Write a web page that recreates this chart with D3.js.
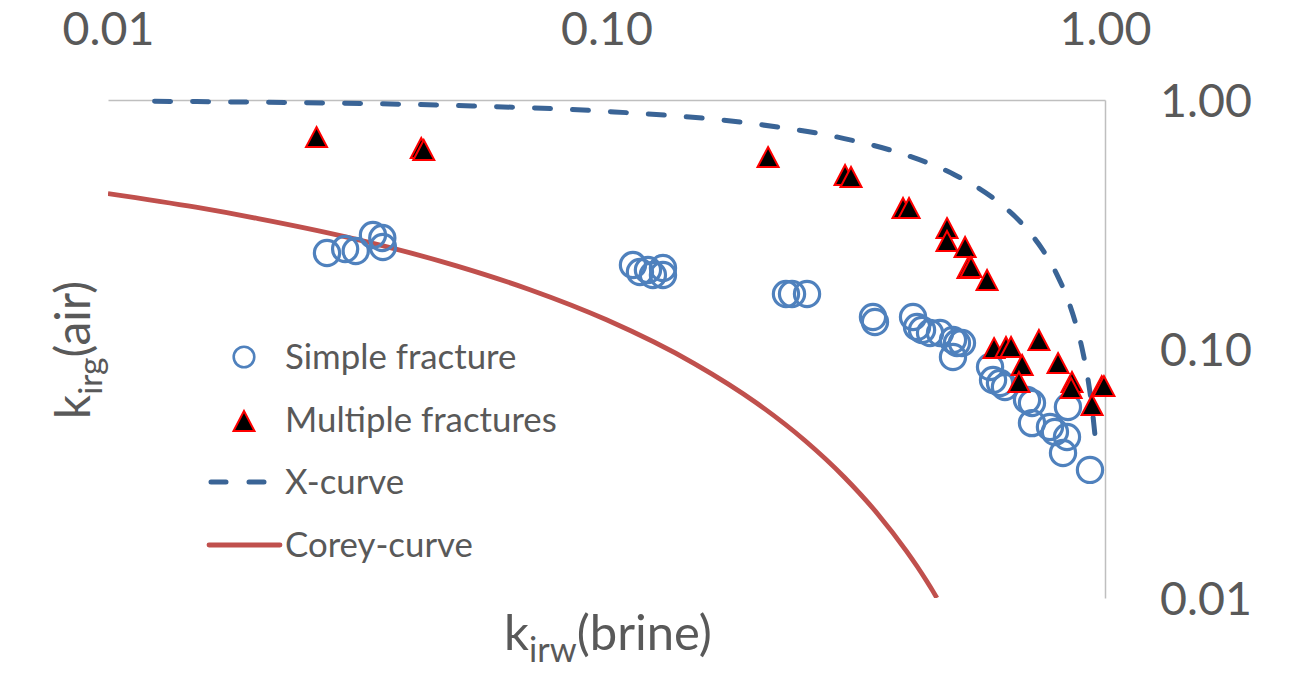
<!DOCTYPE html>
<html>
<head>
<meta charset="utf-8">
<script src="https://cdn.jsdelivr.net/npm/d3@7/dist/d3.min.js"></script>
<style>
  html, body { margin: 0; padding: 0; background: #fff; }
  svg { display: block; }
  text { font-family: Lato, "Open Sans", "Noto Sans", sans-serif; fill: #595959; }
</style>
</head>
<body>
<svg id="chart" width="1309" height="673"></svg>
<script>
// ---------------- data ----------------
const xTicks = [0.01, 0.1, 1];
const yTicks = [0.01, 0.1, 1];

// Simple fracture (open circles)
const simpleKrw = [0.0275, 0.0299, 0.0314, 0.0340, 0.0355, 0.0356,
  0.1130, 0.1167, 0.1211, 0.1239, 0.1298, 0.1298,
  0.2291, 0.2356, 0.2525,
  0.3424, 0.3456, 0.4120, 0.4197, 0.4295, 0.4457, 0.4667, 0.4955, 0.5047, 0.4955, 0.5165,
  0.5880, 0.5962, 0.6157, 0.6300, 0.6975, 0.7137, 0.7137, 0.7755, 0.7935, 0.8390, 0.8237, 0.8427, 0.9330];
const simpleKrg = [0.243, 0.252, 0.2475, 0.287, 0.279, 0.257,
  0.2175, 0.2039, 0.2077, 0.1983, 0.2115, 0.1983,
  0.1663, 0.1663, 0.1663,
  0.1344, 0.1283, 0.1344, 0.1226, 0.1192, 0.1160, 0.1160, 0.1087, 0.1057, 0.0929, 0.1057,
  0.0847, 0.0751, 0.0730, 0.0704, 0.0624, 0.0607, 0.0504, 0.0486, 0.0464, 0.0443, 0.0382, 0.0585, 0.0327];

// Multiple fractures (filled triangles)
const multiKrw = [0.0262, 0.0425, 0.0430, 0.2109, 0.3010, 0.3094, 0.3934, 0.4045,
  0.4820, 0.4820, 0.5240, 0.5310, 0.5385, 0.5800,
  0.599, 0.633, 0.648, 0.737, 0.682, 0.672, 0.805, 0.8586, 0.855, 0.985, 0.995, 0.942];
const multiKrg = [0.710, 0.6415, 0.630, 0.590, 0.4997, 0.491, 0.3684, 0.3684,
  0.306, 0.2715, 0.2568, 0.2115, 0.2135, 0.1893,
  0.1009, 0.1019, 0.1019, 0.1087, 0.0863, 0.0737, 0.0878, 0.0737, 0.0697, 0.0710, 0.0710, 0.0596];

// X-curve
const xCurveKrw = [0.0124, 0.02, 0.05, 0.1, 0.2, 0.3, 0.4, 0.5, 0.6, 0.7, 0.75, 0.8, 0.85, 0.88, 0.9, 0.92, 0.93, 0.94, 0.956];
const xCurveKrg = [0.988, 0.98, 0.95, 0.9, 0.8, 0.7, 0.6, 0.5, 0.4, 0.3, 0.25, 0.2, 0.15, 0.12, 0.1, 0.08, 0.07, 0.06, 0.044];

// Corey-curve
const coreyKrw = [0.01, 0.015, 0.02, 0.03, 0.05, 0.07, 0.1, 0.15, 0.2, 0.25, 0.3, 0.35, 0.4, 0.42, 0.44, 0.45, 0.46];
const coreyKrg = [0.421, 0.371, 0.334, 0.282, 0.2157, 0.1734, 0.131, 0.0874, 0.0607, 0.0429, 0.03055, 0.02176, 0.0154, 0.01338, 0.01159, 0.01078, 0.0100];

const legendLabels = ["Simple fracture", "Multiple fractures", "X-curve", "Corey-curve"];

// ---------------- layout ----------------
const plotLeft = 108, plotRight = 1105, plotTop = 100, plotBottom = 598;

const svg = d3.select("#chart");
const x = d3.scaleLog().domain([0.01, 1]).range([plotLeft, plotRight]);
const y = d3.scaleLog().domain([0.01, 1]).range([plotBottom, plotTop]);

const textColor = "#595959";
const axisColor = "#BFBFBF";
const blueMarker = "#4F81BD";
const xCurveColor = "#3A6496";
const coreyColor = "#C0504D";

svg.append("defs").append("clipPath").attr("id", "plotClip")
  .append("rect").attr("x", plotLeft).attr("y", plotTop - 5)
  .attr("width", plotRight - plotLeft + 10).attr("height", plotBottom - plotTop + 5);

// axes
const fmt = d3.format(".2f");
const gx = svg.append("g").attr("transform", `translate(0,${plotTop})`)
  .call(d3.axisTop(x).tickValues(xTicks).tickFormat(fmt).tickSize(0).tickSizeOuter(0).tickPadding(55));
const gy = svg.append("g").attr("transform", `translate(${plotRight},0)`)
  .call(d3.axisRight(y).tickValues(yTicks).tickFormat(fmt).tickSize(0).tickSizeOuter(0).tickPadding(55));
[gx, gy].forEach(g => {
  g.select(".domain").attr("stroke", axisColor).attr("stroke-width", 1.5);
  g.selectAll("text").attr("fill", textColor).style("font-size", "46.5px")
    .style("font-family", 'Lato, "Open Sans", sans-serif');
});
gy.selectAll("text").attr("dy", "0.36em");

// lines
const line = d3.line().x(d => x(d[0])).y(d => y(d[1])).curve(d3.curveMonotoneX);
const plot = svg.append("g").attr("clip-path", "url(#plotClip)");

plot.append("path")
  .datum(coreyKrw.map((k, i) => [k, coreyKrg[i]]))
  .attr("d", line).attr("fill", "none").attr("stroke", coreyColor)
  .attr("stroke-width", 4.8).attr("stroke-linecap", "butt");

svg.append("path")
  .datum(xCurveKrw.map((k, i) => [k, xCurveKrg[i]]))
  .attr("d", line).attr("fill", "none").attr("stroke", xCurveColor)
  .attr("stroke-width", 5).attr("stroke-linecap", "round")
  .attr("stroke-dasharray", "16,22");

// circles
svg.append("g").selectAll("circle")
  .data(simpleKrw.map((k, i) => [k, simpleKrg[i]]))
  .join("circle")
  .attr("cx", d => x(d[0])).attr("cy", d => y(d[1])).attr("r", 12.6)
  .attr("fill", "none").attr("stroke", blueMarker).attr("stroke-width", 3.2);

// triangles
const tri = (w, h) => `M0,${-h / 2}L${w / 2},${h / 2}L${-w / 2},${h / 2}Z`;
svg.append("g").selectAll("path")
  .data(multiKrw.map((k, i) => [k, multiKrg[i]]))
  .join("path")
  .attr("transform", d => `translate(${x(d[0])},${y(d[1])})`)
  .attr("d", tri(21, 20))
  .attr("fill", "#000").attr("stroke", "#FF0000").attr("stroke-width", 2).attr("stroke-linejoin", "miter");

// legend
const legend = svg.append("g");
const rowY = [357, 420, 482, 545];
const textX = 285;
legendLabels.forEach((lab, i) => {
  legend.append("text").attr("x", textX).attr("y", rowY[i] + 12)
    .style("font-size", "34.8px").attr("fill", textColor).text(lab);
});
legend.append("circle").attr("cx", 244).attr("cy", rowY[0]).attr("r", 10.3)
  .attr("fill", "none").attr("stroke", blueMarker).attr("stroke-width", 2.6);
legend.append("path").attr("transform", `translate(244,${rowY[1] + 1})`).attr("d", tri(21, 20))
  .attr("fill", "#000").attr("stroke", "#FF0000").attr("stroke-width", 2);
legend.append("line").attr("x1", 211).attr("x2", 266).attr("y1", rowY[2]).attr("y2", rowY[2])
  .attr("stroke", xCurveColor).attr("stroke-width", 5).attr("stroke-linecap", "round")
  .attr("stroke-dasharray", "15,23");
legend.append("line").attr("x1", 209).attr("x2", 280).attr("y1", rowY[3]).attr("y2", rowY[3])
  .attr("stroke", coreyColor).attr("stroke-width", 4.8).attr("stroke-linecap", "round");

// axis titles
const xt = svg.append("text").attr("x", 608).attr("y", 650).attr("text-anchor", "middle")
  .style("font-size", "49px").attr("fill", textColor);
xt.append("tspan").text("k");
xt.append("tspan").attr("dy", 12).style("font-size", "34.3px").text("irw");
xt.append("tspan").attr("dy", -12).text("(brine)");

const yt = svg.append("text").attr("transform", "translate(90,350) rotate(-90)")
  .attr("text-anchor", "middle").style("font-size", "48px").attr("fill", textColor);
yt.append("tspan").text("k");
yt.append("tspan").attr("dy", 12).style("font-size", "33.6px").text("irg");
yt.append("tspan").attr("dy", -12).text("(air)");
</script>
</body>
</html>
